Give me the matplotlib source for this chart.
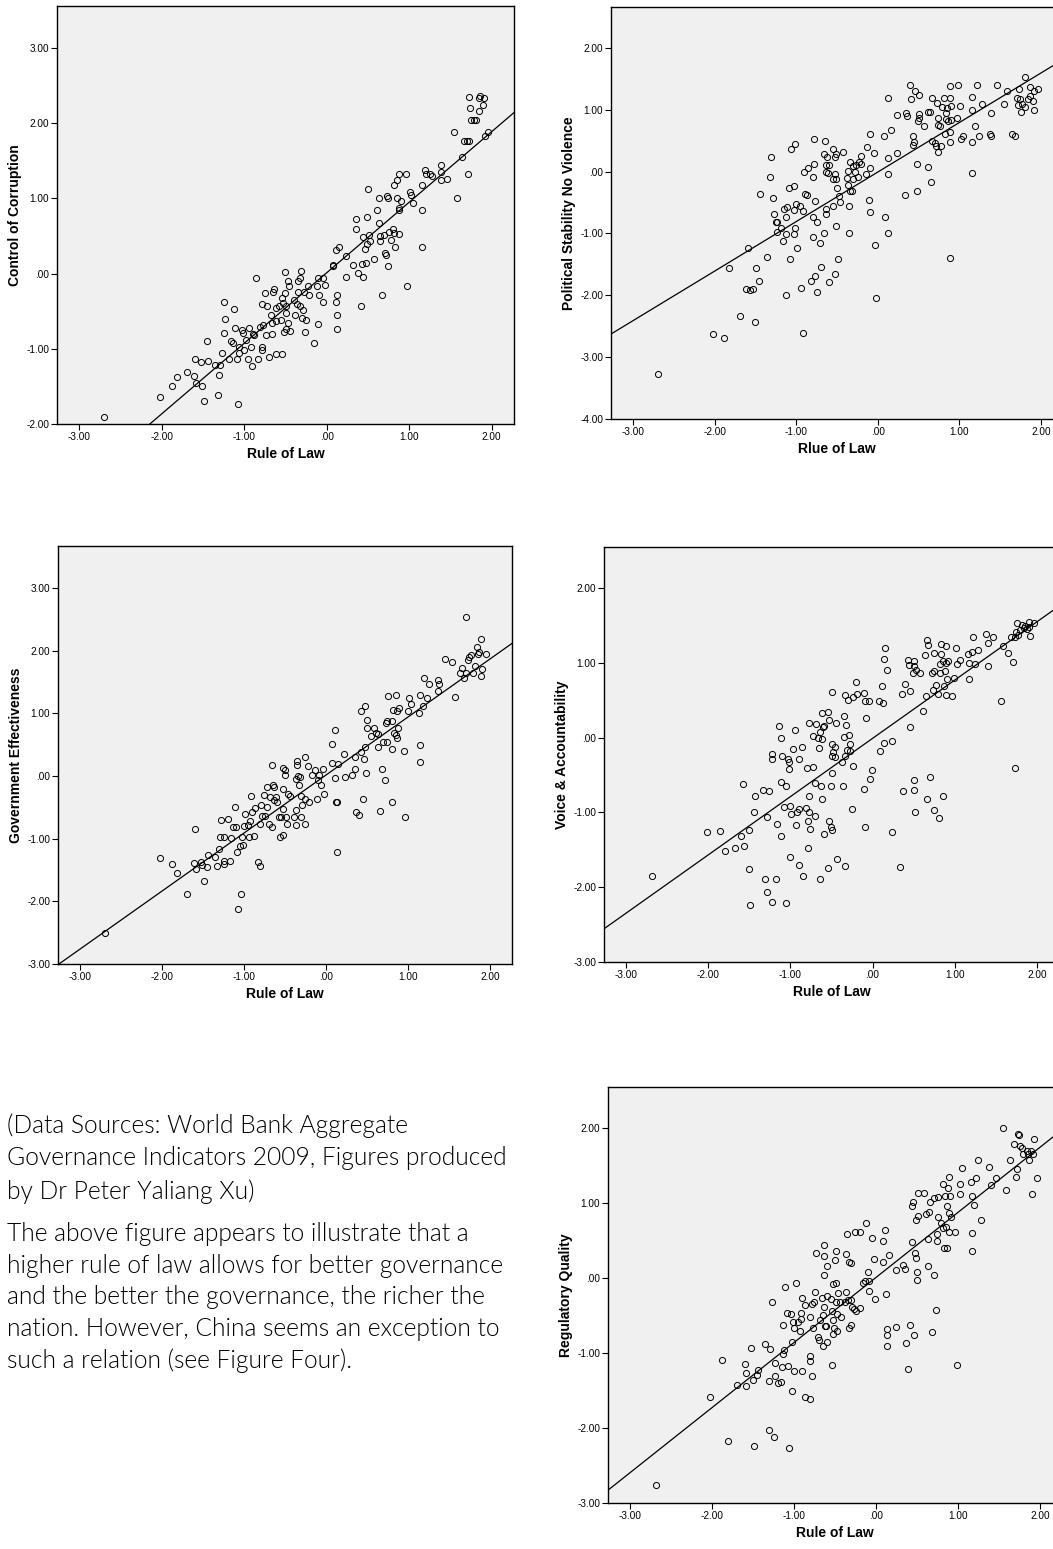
import numpy as np
import matplotlib
matplotlib.use("Agg")
import matplotlib.pyplot as plt
from matplotlib.ticker import FuncFormatter

# ---- data (WGI 2009, x = Rule of Law) ----
cc_x = [-2.70, -2.02, -1.88, -1.82, -1.69, -1.60, -1.61, -1.58, -1.53, -1.51, -1.49, -1.45, -1.44, -1.36,
        -1.32, -1.31, -1.29, -1.27, -1.25, -1.23, -1.24, -1.18, -1.16, -1.14, -1.13, -1.11, -1.09, -1.07,
        -1.06, -1.06, -1.03, -1.02, -1.00, -0.98, -0.95, -0.94, -0.92, -0.91, -0.90, -0.88, -0.86, -0.83,
        -0.81, -0.79, -0.79, -0.78, -0.77, -0.75, -0.74, -0.72, -0.70, -0.68, -0.66, -0.66, -0.65, -0.64,
        -0.62, -0.62, -0.61, -0.58, -0.56, -0.54, -0.54, -0.53, -0.52, -0.51, -0.51, -0.50, -0.49, -0.49,
        -0.47, -0.47, -0.46, -0.44, -0.40, -0.38, -0.36, -0.35, -0.35, -0.33, -0.32, -0.31, -0.30, -0.29,
        -0.28, -0.26, -0.25, -0.23, -0.22, -0.16, -0.12, -0.10, -0.09, -0.10, -0.05, -0.04, -0.02, 0.07,
        0.08, 0.11, 0.11, 0.13, 0.13, 0.13, 0.15, 0.23, 0.23, 0.32, 0.35, 0.36, 0.38, 0.42, 0.43, 0.44,
        0.44, 0.46, 0.48, 0.49, 0.49, 0.50, 0.51, 0.52, 0.57, 0.61, 0.63, 0.63, 0.65, 0.65, 0.67, 0.69,
        0.71, 0.72, 0.73, 0.74, 0.74, 0.75, 0.78, 0.80, 0.81, 0.81, 0.83, 0.85, 0.85, 0.87, 0.88, 0.88,
        0.88, 0.90, 0.96, 0.97, 1.01, 1.02, 1.04, 1.15, 1.15, 1.16, 1.19, 1.20, 1.25, 1.28, 1.38, 1.39,
        1.39, 1.46, 1.54, 1.58, 1.64, 1.66, 1.70, 1.71, 1.72, 1.73, 1.74, 1.75, 1.79, 1.81, 1.84, 1.85,
        1.86, 1.89, 1.91, 1.92, 1.96]
cc_y = [-1.91, -1.64, -1.49, -1.37, -1.31, -1.14, -1.36, -1.45, -1.18, -1.49, -1.69, -0.90, -1.16, -1.22,
        -1.62, -1.35, -1.22, -1.06, -0.38, -0.60, -0.79, -1.14, -0.90, -0.92, -0.47, -0.72, -1.14, -1.74,
        -1.06, -0.97, -0.75, -0.79, -1.01, -0.88, -1.13, -0.72, -0.98, -1.23, -0.80, -0.81, -0.06, -1.14,
        -0.71, -0.40, -0.97, -1.01, -0.68, -0.26, -0.82, -0.43, -1.11, -0.55, -0.66, -0.80, -0.25, -0.21,
        -0.46, -1.07, -0.63, -0.43, -0.61, -1.07, -0.32, -0.39, -0.78, 0.02, -0.26, -0.52, -0.43, -0.74,
        -0.10, -0.65, -0.16, -0.76, -0.35, -0.55, -0.40, -0.25, -0.10, -0.43, -0.06, 0.04, -0.59, -0.49,
        -0.24, -0.78, -0.61, -0.16, -0.28, -0.92, -0.17, -0.67, -0.28, -0.06, -0.06, -0.38, -0.15, 0.12,
        0.10, 0.31, -0.38, -0.29, -0.55, -0.73, 0.36, 0.23, -0.04, 0.11, 0.59, 0.73, 0.01, -0.43, 0.13,
        -0.04, 0.49, 0.33, 0.14, 0.39, 0.75, 1.12, 0.52, 0.44, 0.19, 0.84, 0.67, 1.00, 0.50, 0.43, -0.29,
        0.51, 0.28, 0.25, 1.03, 1.00, 0.10, 0.55, 0.45, 0.59, 1.18, 0.54, 0.36, 1.00, 1.25, 1.33, 0.87,
        0.84, 0.53, 0.96, 1.33, -0.17, 1.08, 1.04, 0.94, 1.18, 0.84, 0.36, 1.38, 1.33, 1.32, 1.30, 1.35,
        1.44, 1.25, 1.26, 1.88, 1.01, 1.55, 1.77, 1.77, 1.33, 2.35, 1.77, 2.20, 2.04, 2.04, 2.04, 2.33,
        2.16, 2.36, 2.24, 2.33, 1.83, 1.88]

ps_x = [-2.69, -2.02, -1.88, -1.82, -1.69, -1.61, -1.59, -1.57, -1.53, -1.50, -1.49, -1.45, -1.44, -1.36,
        -1.32, -1.31, -1.29, -1.27, -1.25, -1.23, -1.23, -1.19, -1.16, -1.15, -1.13, -1.12, -1.11, -1.13,
        -1.09, -1.07, -1.06, -1.03, -1.03, -1.03, -1.01, -1.01, -1.00, -0.99, -0.95, -0.94, -0.92, -0.92,
        -0.90, -0.89, -0.87, -0.85, -0.80, -0.80, -0.80, -0.82, -0.78, -0.78, -0.77, -0.77, -0.74, -0.74,
        -0.71, -0.70, -0.66, -0.66, -0.65, -0.64, -0.64, -0.64, -0.63, -0.62, -0.61, -0.60, -0.60, -0.55,
        -0.55, -0.55, -0.53, -0.52, -0.52, -0.51, -0.51, -0.51, -0.50, -0.49, -0.47, -0.46, -0.43, -0.38,
        -0.37, -0.36, -0.35, -0.35, -0.34, -0.34, -0.32, -0.31, -0.30, -0.28, -0.27, -0.24, -0.23, -0.21,
        -0.21, -0.15, -0.13, -0.11, -0.10, -0.09, -0.09, -0.05, -0.04, -0.02, 0.08, 0.09, 0.12, 0.12,
        0.13, 0.13, 0.16, 0.23, 0.23, 0.33, 0.35, 0.36, 0.39, 0.41, 0.43, 0.43, 0.44, 0.46, 0.48, 0.48,
        0.49, 0.50, 0.51, 0.51, 0.57, 0.61, 0.62, 0.64, 0.65, 0.66, 0.67, 0.70, 0.71, 0.73, 0.74, 0.74,
        0.74, 0.76, 0.78, 0.79, 0.81, 0.82, 0.83, 0.84, 0.85, 0.86, 0.88, 0.88, 0.88, 0.88, 0.88, 0.90,
        0.90, 0.97, 0.98, 1.01, 1.02, 1.05, 1.15, 1.16, 1.16, 1.16, 1.19, 1.21, 1.24, 1.28, 1.39, 1.38,
        1.39, 1.46, 1.55, 1.58, 1.64, 1.68, 1.71, 1.72, 1.73, 1.74, 1.75, 1.77, 1.80, 1.81, 1.84, 1.86,
        1.87, 1.90, 1.91, 1.92, 1.96]
ps_y = [-3.28, -2.63, -2.69, -1.56, -2.33, -1.90, -1.23, -1.92, -1.90, -2.44, -1.56, -1.77, -0.37, -1.38,
        -0.08, 0.24, -0.43, -0.68, -0.81, -0.82, -0.98, -0.91, -1.13, -0.60, -0.74, -1.01, -0.58, -2.00,
        -0.27, -1.42, 0.36, -0.23, -1.01, -0.62, -0.92, 0.45, -0.53, -1.24, -0.56, -1.88, -2.61, -0.63,
        -0.01, -0.36, -0.38, 0.05, -0.09, -0.74, -1.05, -1.77, 0.13, 0.52, -1.69, -0.48, -0.82, -1.94,
        -1.15, -1.54, 0.29, -1.00, 0.49, -0.61, -0.69, 0.11, 0.00, 0.24, -0.02, -1.78, 0.10, 0.36,
        -0.12, -0.56, 0.23, -0.04, -1.66, 0.29, -0.12, -0.88, -0.26, -1.41, -0.40, -0.49, 0.32, -0.11,
        0.01, -0.21, -0.56, -1.00, 0.16, -0.31, -0.31, -0.12, 0.09, -0.01, 0.11, -0.09, 0.15, 0.13,
        0.25, -0.04, 0.39, -0.46, 0.06, -0.66, 0.60, 0.30, -1.19, -2.04, 0.57, -0.73, -0.04, -0.99,
        1.19, 0.22, 0.67, 0.30, 0.91, -0.38, 0.95, 0.90, 1.40, 1.17, 0.57, 0.43, 0.47, 1.30, 0.13, -0.31,
        0.82, 0.87, 1.23, 0.93, 0.74, 0.08, 0.97, 0.97, -0.17, 0.50, 1.19, 0.46, 0.41, 1.11, 0.76, 0.32,
        0.86, 0.73, 0.41, 1.05, 1.19, 0.60, 0.95, 0.85, 1.03, 0.81, -1.39, 0.48, 1.19, 1.39, 0.64, 0.83,
        1.06, 0.86, 1.40, 1.06, 0.52, 0.58, -0.02, 0.47, 1.20, 1.00, 0.74, 1.40, 0.57, 1.10, 0.94, 0.61,
        0.58, 1.40, 1.10, 1.30, 0.60, 0.57, 1.19, 1.08, 1.33, 1.18, 0.96, 1.09, 1.05, 1.53, 1.18, 1.36,
        1.22, 1.14, 1.30, 1.00, 1.34]

ge_x = [-2.70, -2.02, -1.88, -1.82, -1.69, -1.61, -1.60, -1.58, -1.53, -1.51, -1.49, -1.45, -1.44, -1.36,
        -1.33, -1.31, -1.29, -1.28, -1.25, -1.24, -1.24, -1.20, -1.17, -1.16, -1.14, -1.11, -1.10, -1.08,
        -1.07, -1.05, -1.04, -1.02, -1.01, -1.00, -0.99, -0.95, -0.94, -0.93, -0.92, -0.90, -0.88, -0.86,
        -0.83, -0.81, -0.81, -0.79, -0.78, -0.76, -0.75, -0.72, -0.72, -0.70, -0.68, -0.66, -0.66, -0.65,
        -0.63, -0.63, -0.61, -0.60, -0.57, -0.56, -0.55, -0.53, -0.53, -0.52, -0.52, -0.50, -0.50, -0.49,
        -0.47, -0.46, -0.44, -0.39, -0.37, -0.37, -0.37, -0.35, -0.35, -0.34, -0.33, -0.32, -0.31, -0.30,
        -0.29, -0.26, -0.26, -0.25, -0.22, -0.21, -0.17, -0.14, -0.11, -0.10, -0.09, -0.06, -0.04, -0.02,
        0.07, 0.07, 0.11, 0.11, 0.12, 0.13, 0.13, 0.15, 0.22, 0.23, 0.32, 0.35, 0.35, 0.37, 0.40, 0.43,
        0.43, 0.45, 0.47, 0.48, 0.48, 0.49, 0.50, 0.50, 0.55, 0.59, 0.61, 0.63, 0.64, 0.66, 0.68, 0.70,
        0.72, 0.73, 0.74, 0.74, 0.76, 0.80, 0.80, 0.80, 0.82, 0.83, 0.85, 0.86, 0.87, 0.88, 0.87, 0.89,
        0.95, 0.97, 1.00, 1.01, 1.04, 1.14, 1.15, 1.15, 1.15, 1.18, 1.20, 1.23, 1.26, 1.37, 1.37, 1.38,
        1.45, 1.54, 1.57, 1.63, 1.66, 1.69, 1.71, 1.71, 1.73, 1.75, 1.77, 1.79, 1.82, 1.84, 1.85, 1.87,
        1.89, 1.89, 1.90, 1.95]
ge_y = [-2.51, -1.31, -1.41, -1.55, -1.89, -1.39, -0.85, -1.49, -1.38, -1.42, -1.68, -1.45, -1.26, -1.29,
        -1.44, -1.16, -0.98, -0.70, -1.41, -1.35, -0.98, -0.69, -1.35, -0.99, -0.81, -0.50, -0.81, -1.22,
        -2.12, -1.11, -1.88, -0.98, -1.10, -0.80, -0.61, -0.78, -0.98, -0.72, -0.32, -0.57, -0.96, -0.51,
        -1.37, -1.44, -0.76, -0.47, -0.64, -0.31, -0.64, -0.49, -0.17, -0.77, -0.33, 0.18, -0.82, -0.15,
        -0.39, -0.18, -0.34, -0.42, -0.65, -0.98, -0.66, -0.94, -0.52, -0.20, 0.12, 0.01, 0.09, -0.66,
        -0.76, -0.29, -0.32, -0.66, -0.05, -0.55, -0.78, 0.24, 0.18, 0.00, -0.14, -0.01, -0.32, -0.65,
        -0.46, -0.77, 0.30, -0.36, 0.16, -0.42, 0.01, 0.10, -0.37, -0.07, 0.02, -0.15, 0.11, -0.29,
        0.51, 0.20, 0.74, -0.03, -0.41, -0.41, -1.22, 0.19, 0.35, -0.02, 0.01, 0.11, 0.30, -0.58, -0.63,
        0.39, 1.03, -0.36, 0.27, 1.12, 0.47, 0.05, 0.89, 0.76, 0.64, 0.76, 0.69, 0.67, 0.47, -0.56, 0.11,
        0.55, -0.06, 0.84, 0.55, 0.88, 1.27, 0.43, -0.42, 0.88, 1.06, 0.69, 0.65, 1.29, 1.03, 0.76, 0.60,
        1.09, 0.40, -0.66, 1.04, 1.24, 1.15, 1.00, 1.29, 0.49, 0.22, 1.11, 1.56, 1.24, 1.47, 1.36, 1.53,
        1.46, 1.86, 1.82, 1.26, 1.65, 1.73, 1.56, 2.53, 1.65, 1.85, 1.90, 1.93, 1.65, 1.76, 2.06, 1.94,
        1.98, 2.19, 1.59, 1.71, 1.95]

va_x = [-2.68, -2.01, -1.86, -1.80, -1.68, -1.60, -1.58, -1.57, -1.51, -1.50, -1.44, -1.43, -1.34, -1.31,
        -1.29, -1.28, -1.26, -1.23, -1.23, -1.22, -1.16, -1.14, -1.12, -1.12, -1.11, -1.18, -1.10, -1.08,
        -1.06, -1.05, -1.49, -1.03, -1.02, -1.02, -1.00, -1.00, -0.99, -0.97, -0.94, -0.93, -0.92, -0.90,
        -0.90, -0.89, -0.86, -0.85, -0.81, -0.80, -0.79, -0.79, -0.78, -0.77, -0.77, -0.76, -0.73, -0.72,
        -0.70, -0.70, -0.69, -0.66, -0.65, -0.64, -0.64, -0.63, -0.62, -0.62, -0.61, -0.60, -0.59, -0.59,
        -0.54, -0.54, -0.53, -0.53, -0.51, -0.51, -0.50, -0.50, -0.50, -0.49, -0.49, -0.48, -0.46, -0.46,
        -0.45, -0.43, -0.37, -0.36, -0.35, -0.35, -0.34, -0.33, -0.33, -0.32, -0.31, -0.30, -0.29, -0.28,
        -0.27, -0.25, -0.24, -0.24, -0.20, -0.19, -0.11, -0.11, -0.09, -0.09, -0.08, -0.04, -0.03, -0.01,
        0.08, 0.09, 0.12, 0.13, 0.14, 0.14, 0.15, 0.17, 0.24, 0.24, 0.33, 0.36, 0.37, 0.39, 0.43, 0.44,
        0.45, 0.46, 0.49, 0.50, 0.50, 0.50, 0.51, 0.52, 0.53, 0.58, 0.62, 0.64, 0.65, 0.66, 0.66, 0.68,
        0.70, 0.72, 0.74, 0.75, 0.75, 0.75, 0.77, 0.80, 0.81, 0.82, 0.82, 0.83, 0.83, 0.86, 0.86, 0.87,
        0.88, 0.89, 0.90, 0.90, 0.91, 0.92, 0.97, 0.99, 1.02, 1.03, 1.06, 1.16, 1.17, 1.17, 1.21, 1.22,
        1.25, 1.28, 1.38, 1.40, 1.40, 1.47, 1.56, 1.59, 1.65, 1.68, 1.71, 1.73, 1.73, 1.75, 1.76, 1.77,
        1.80, 1.82, 1.84, 1.86, 1.88, 1.91, 1.91, 1.92, 1.96]
va_y = [-1.85, -1.26, -1.25, -1.52, -1.47, -1.31, -0.62, -1.45, -1.23, -1.76, -0.99, -0.78, -0.70, -1.89,
        -2.06, -1.06, -0.71, -2.20, -0.22, -0.29, -1.16, 0.16, 0.00, -0.59, -1.31, -1.89, -0.25, -0.93,
        -0.65, -2.21, -2.24, -0.29, -0.42, -0.33, -0.91, -1.59, -1.02, -0.15, 0.10, -1.17, -1.00, -0.96,
        -1.70, -0.29, -0.13, -1.85, -0.94, -0.41, -1.12, -1.48, 0.20, -1.00, -0.78, -1.22, 0.02, -0.39,
        -1.05, -0.60, 0.18, -0.01, -0.14, -1.89, 0.08, -0.65, -0.02, -0.82, 0.33, 0.14, -1.29, 0.15,
        0.35, -1.74, -1.11, 0.24, -1.20, -0.65, -0.47, -0.08, -0.25, -1.23, 0.61, -0.19, -0.13, -0.26,
        0.20, -1.62, -0.32, -0.65, 0.29, 0.01, -0.24, 0.57, -1.71, 0.17, -0.16, 0.51, 0.04, -0.08,
        -0.18, -0.96, 0.54, -0.38, 0.74, 0.59, 0.60, -0.69, 0.49, -1.19, 0.26, 0.49, -0.55, -0.43,
        0.49, -0.18, 0.69, 0.46, -0.07, 1.05, 1.20, 0.90, -0.04, -1.26, -1.73, 0.58, -0.71, 0.72, 1.04,
        0.97, 0.14, 0.62, 0.87, -0.57, -0.70, 1.02, 0.96, -0.99, 0.90, 0.86, 0.36, 1.10, 0.56, -0.82,
        1.31, 1.24, -0.53, 0.87, 0.64, 1.13, -0.97, 0.89, 0.70, 0.59, -1.07, 0.86, 0.99, 1.25, 1.12,
        -0.78, 1.02, 0.69, 0.89, 1.22, 0.57, 1.00, 0.79, 1.02, 0.56, 0.80, 1.20, 0.99, 1.04, 1.12, 0.79,
        1.00, 1.15, 1.34, 0.99, 1.17, 1.38, 0.96, 1.26, 1.34, 0.49, 1.22, 1.13, 1.34, 1.01, 1.35, -0.40,
        1.41, 1.54, 1.37, 1.44, 1.51, 1.47, 1.49, 1.46, 1.55, 1.48, 1.36, 1.54]

rq_x = [-2.69, -2.02, -1.88, -1.81, -1.69, -1.60, -1.58, -1.58, -1.52, -1.50, -1.49, -1.45, -1.44, -1.35,
        -1.31, -1.31, -1.29, -1.27, -1.24, -1.23, -1.23, -1.19, -1.16, -1.15, -1.13, -1.13, -1.12, -1.11,
        -1.09, -1.07, -1.06, -1.04, -1.03, -1.03, -1.01, -1.00, -1.00, -0.98, -0.95, -0.93, -0.92, -0.91,
        -0.90, -0.90, -0.87, -0.86, -0.80, -0.80, -0.80, -0.81, -0.78, -0.78, -0.77, -0.76, -0.74, -0.73,
        -0.71, -0.69, -0.68, -0.66, -0.65, -0.65, -0.64, -0.64, -0.63, -0.63, -0.62, -0.61, -0.60, -0.60,
        -0.60, -0.55, -0.54, -0.54, -0.53, -0.52, -0.52, -0.51, -0.50, -0.49, -0.49, -0.49, -0.48, -0.47,
        -0.46, -0.44, -0.43, -0.38, -0.36, -0.36, -0.35, -0.34, -0.33, -0.33, -0.31, -0.31, -0.30, -0.29,
        -0.27, -0.25, -0.24, -0.20, -0.20, -0.16, -0.13, -0.12, -0.10, -0.09, -0.08, -0.05, -0.03, -0.01,
        0.08, 0.09, 0.11, 0.12, 0.13, 0.14, 0.14, 0.16, 0.24, 0.24, 0.33, 0.36, 0.37, 0.39, 0.42, 0.44,
        0.44, 0.45, 0.46, 0.48, 0.49, 0.49, 0.50, 0.50, 0.51, 0.51, 0.58, 0.61, 0.63, 0.64, 0.65, 0.66,
        0.68, 0.71, 0.71, 0.73, 0.75, 0.75, 0.76, 0.76, 0.79, 0.82, 0.82, 0.83, 0.84, 0.86, 0.87, 0.87,
        0.88, 0.89, 0.89, 0.89, 0.90, 0.91, 0.97, 0.99, 1.02, 1.03, 1.05, 1.16, 1.17, 1.17, 1.17, 1.20,
        1.22, 1.25, 1.28, 1.38, 1.40, 1.47, 1.55, 1.59, 1.64, 1.68, 1.71, 1.72, 1.73, 1.74, 1.76, 1.78,
        1.80, 1.84, 1.86, 1.87, 1.89, 1.91, 1.92, 1.93, 1.97]
rq_y = [-2.76, -1.58, -1.09, -2.17, -1.42, -1.15, -1.44, -1.26, -0.93, -1.36, -2.24, -1.29, -1.22, -0.88,
        -1.37, -2.02, -0.94, -0.32, -2.12, -1.13, -1.31, -1.40, -1.39, -1.19, -1.01, -0.62, -0.96, -0.12,
        -0.47, -1.17, -2.27, -0.48, -0.85, -1.50, -0.58, -1.24, -0.66, -0.07, -0.59, -0.70, -0.47, -0.55,
        -1.24, -0.27, -0.36, -1.58, -0.52, -1.61, -1.04, -1.11, -1.30, -0.34, -0.66, -0.32, -0.19, 0.33,
        -0.79, -0.82, -0.56, -0.27, -0.49, -0.91, 0.04, 0.44, 0.30, -0.39, -0.64, -0.64, 0.16, -0.24,
        -0.85, -0.28, -1.16, -0.44, -0.74, -0.56, -0.08, -0.67, 0.24, 0.36, -0.06, -0.32, -0.71, -0.48,
        -0.20, -0.32, -0.52, -0.32, 0.32, -0.19, 0.59, -0.29, -0.67, 0.21, 0.20, -0.29, -0.63, -0.39,
        -0.41, 0.62, -0.44, 0.62, -0.40, -0.06, -0.04, 0.74, 0.08, -0.17, -0.04, 0.53, 0.26, -0.28,
        0.50, 0.21, 0.64, -0.21, -0.76, -0.68, -0.90, 0.31, 0.11, -0.65, 0.17, 0.12, -0.86, -1.21, -0.62,
        0.96, 0.48, 1.01, -0.76, 0.34, 0.77, 0.27, 0.08, -0.02, 0.83, 1.14, 1.14, 0.85, 0.16, 0.52, 0.88,
        1.02, -0.72, 0.04, 1.07, -0.42, 0.59, 0.50, 0.81, 1.08, 0.73, 0.67, 1.25, 0.40, 1.09, 0.68, 0.40,
        0.96, 1.20, 0.61, 0.87, 1.35, 1.10, 0.82, 0.61, -1.16, 1.12, 1.25, 1.47, 1.28, 1.10, 0.60, 0.36,
        0.98, 1.34, 1.58, 0.78, 1.48, 1.24, 1.34, 2.00, 1.17, 1.58, 1.79, 1.35, 1.46, 1.92, 1.91, 1.76,
        1.73, 1.66, 1.70, 1.66, 1.58, 1.70, 1.12, 1.66, 1.86, 1.34]

panel_ylabels = ["Control of Corruption", "Political Stability No Violence", "Government Effectiveness",
                 "Voice & Accountability", "Regulatory Quality"]
panel_xlabels = ["Rule of Law", "Rlue of Law", "Rule of Law", "Rule of Law", "Rule of Law"]
panel_yticks = [[-2, -1, 0, 1, 2, 3], [-4, -3, -2, -1, 0, 1, 2], [-3, -2, -1, 0, 1, 2, 3],
                [-3, -2, -1, 0, 1, 2], [-3, -2, -1, 0, 1, 2]]
panel_ylims = [(-2.0, 3.56), (-4.0, 2.66), (-3.0, 3.67), (-3.0, 2.55), (-3.0, 2.55)]
x_ticks = [-3, -2, -1, 0, 1, 2]

caption_source = ("(Data Sources: World Bank Aggregate\n"
                  "Governance Indicators 2009, Figures produced\n"
                  "by Dr Peter Yaliang Xu)")
caption_body = ("The above figure appears to illustrate that a\n"
                "higher rule of law allows for better governance\n"
                "and the better the governance, the richer the\n"
                "nation. However, China seems an exception to\n"
                "such a relation (see Figure Four).")

W, H = 1053, 1549


def spss_fmt(v, pos):
    s = f"{v:.2f}"
    if s in ("0.00", "-0.00"):
        return ".00"
    return s


def draw_panel(fig, box, x, y, ylabel, xlabel, ylim, yticks):
    left, top, width, height = box
    ax = fig.add_axes([left / W, 1 - (top + height) / H, width / W, height / H])
    ax.set_facecolor("#f0f0f0")
    ax.plot(x, y, linestyle="none", marker="o", markersize=4.4,
            markerfacecolor="none", markeredgecolor="black", markeredgewidth=0.7)
    m, b = np.polyfit(x, y, 1)
    ax.axline((0, b), slope=m, color="black", linewidth=0.9)
    ax.set_xlim(-3.27, 2.27)
    ax.set_ylim(*ylim)
    ax.set_xticks(x_ticks)
    ax.set_yticks(yticks)
    ax.xaxis.set_major_formatter(FuncFormatter(spss_fmt))
    ax.yaxis.set_major_formatter(FuncFormatter(spss_fmt))
    ax.tick_params(axis="both", direction="out", length=4, width=0.8, pad=1.5,
                   labelsize=7.2, colors="black")
    for lab in ax.get_xticklabels() + ax.get_yticklabels():
        lab.set_fontfamily("Liberation Sans")
    for sp in ax.spines.values():
        sp.set_linewidth(1.0)
    ax.set_xlabel(xlabel, fontsize=10, fontweight="bold", family="Liberation Sans", labelpad=4)
    ax.set_ylabel(ylabel, fontsize=10, fontweight="bold", family="Liberation Sans", labelpad=3)
    return ax


fig = plt.figure(figsize=(W / 100, H / 100), dpi=100)
fig.patch.set_facecolor("white")

boxes = [(57, 6, 457, 418), (611, 7, 452, 412), (58, 546, 454, 418),
         (604, 547, 455, 415), (608, 1087, 454, 416)]
series = [(cc_x, cc_y), (ps_x, ps_y), (ge_x, ge_y), (va_x, va_y), (rq_x, rq_y)]

for i, (box, (xs, ys)) in enumerate(zip(boxes, series)):
    draw_panel(fig, box, xs, ys, panel_ylabels[i], panel_xlabels[i], panel_ylims[i], panel_yticks[i])

cap_style = dict(fontsize=17.7, family="Lato", fontweight=300, color="black",
                 va="top", ha="left")
fig.text(7 / W, 1 - 1113 / H, caption_source, linespacing=1.45, **cap_style)
fig.text(7 / W, 1 - 1222 / H, caption_body, linespacing=1.40, **cap_style)

fig.savefig("out.png", dpi=100)
